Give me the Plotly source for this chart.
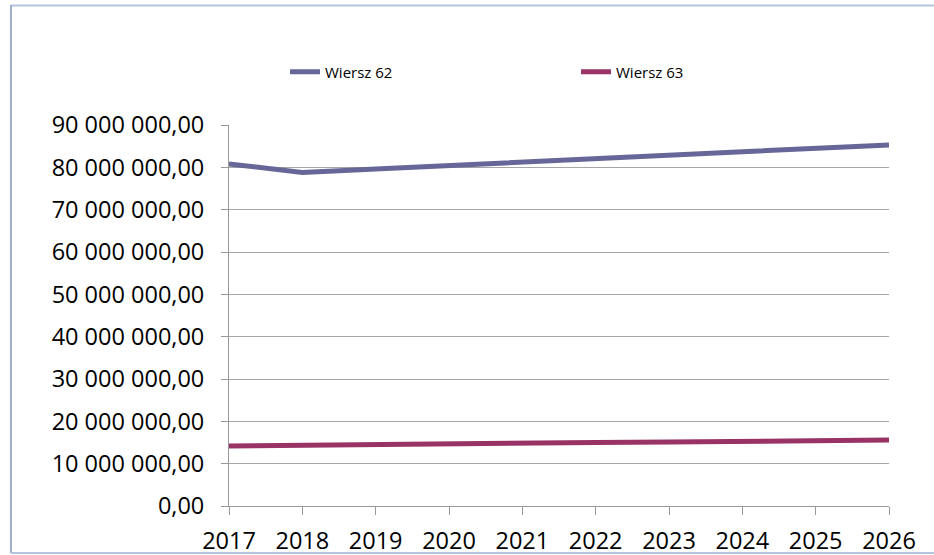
import plotly.graph_objects as go

years = [2017, 2018, 2019, 2020, 2021, 2022, 2023, 2024, 2025, 2026]
wiersz_62 = [80.8e6, 78.8e6, 79.6e6, 80.4e6, 81.2e6, 82.0e6, 82.8e6, 83.6e6, 84.5e6, 85.3e6]
wiersz_63 = [14.2e6, 14.4e6, 14.5e6, 14.7e6, 14.8e6, 15.0e6, 15.1e6, 15.3e6, 15.4e6, 15.6e6]
y_tick_vals = [0, 10e6, 20e6, 30e6, 40e6, 50e6, 60e6, 70e6, 80e6, 90e6]
y_tick_text = ["0,00", "10 000 000,00", "20 000 000,00", "30 000 000,00", "40 000 000,00",
               "50 000 000,00", "60 000 000,00", "70 000 000,00", "80 000 000,00", "90 000 000,00"]

W, H = 934, 555
L, R, T, B = 229, 45, 125, 49
pw, ph = W - L - R, H - T - B

def px(x):
    return (x - L) / pw

def py(y):
    return (H - B - y) / ph

fig = go.Figure()
fig.add_trace(go.Scatter(x=years, y=wiersz_62, mode="lines", name="Wiersz 62",
                         line=dict(color="#666699", width=5)))
fig.add_trace(go.Scatter(x=years, y=wiersz_63, mode="lines", name="Wiersz 63",
                         line=dict(color="#993366", width=5)))

font = "Open Sans, Liberation Sans, sans-serif"
fig.update_layout(
    width=W, height=H,
    margin=dict(l=L, r=R, t=T, b=B, pad=0, autoexpand=False),
    paper_bgcolor="white", plot_bgcolor="white",
    showlegend=True,
    legend=dict(orientation="h", x=px(285), y=py(72), xanchor="left", yanchor="middle",
                font=dict(family=font, size=15, color="#000"),
                entrywidth=246, entrywidthmode="pixels", bgcolor="rgba(0,0,0,0)"),
    xaxis=dict(range=[2017, 2026], tickvals=years, ticktext=[str(y) for y in years],
               automargin=False,
               showgrid=False, zeroline=False, showline=True, linecolor="#999999", linewidth=1,
               ticks="outside", ticklen=8, tickcolor="#999999", ticklabelstandoff=6,
               tickfont=dict(family=font, size=23.5, color="#000")),
    yaxis=dict(range=[0, 90e6], tickvals=y_tick_vals, ticktext=y_tick_text,
               automargin=False,
               showgrid=True, gridcolor="#a6a6a6", gridwidth=1, zeroline=False,
               showline=True, linecolor="#999999", linewidth=1,
               ticks="outside", ticklen=7, tickcolor="#999999", ticklabelstandoff=12,
               tickfont=dict(family=font, size=23.5, color="#000")),
    shapes=[
        dict(type="line", xref="paper", yref="paper", x0=px(11), x1=px(945), y0=py(5.5), y1=py(5.5),
             line=dict(color="#b4c4de", width=2)),
        dict(type="line", xref="paper", yref="paper", x0=px(11), x1=px(11), y0=py(5), y1=py(553),
             line=dict(color="#9fb0cc", width=2)),
        dict(type="line", xref="paper", yref="paper", x0=px(11), x1=px(945), y0=py(553), y1=py(553),
             line=dict(color="#b4c4de", width=2)),
    ],
)
fig.write_html("out.html", config={"displayModeBar": False},
               post_script="document.body.style.margin='0';document.body.style.overflow='hidden';")
